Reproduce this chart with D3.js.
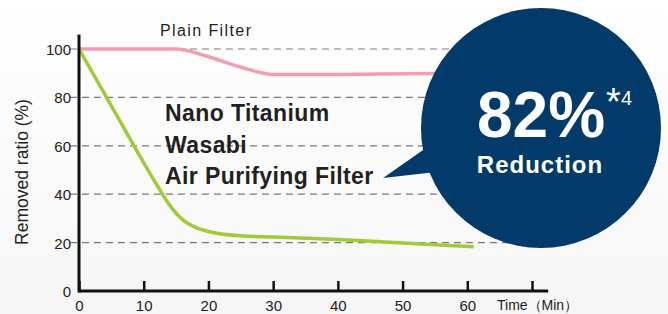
<!DOCTYPE html>
<html>
<head>
<meta charset="utf-8">
<script src="https://cdn.jsdelivr.net/npm/d3@7"></script>
<style>
  html, body { margin: 0; padding: 0; }
  body { width: 668px; height: 314px; overflow: hidden; font-family: "Liberation Sans", Arial, Helvetica, sans-serif; }
  svg { display: block; }
  .tick text { font-family: "Liberation Sans", Arial, sans-serif; fill: #222; }
</style>
</head>
<body>
<div id="chart"></div>
<script>
// 1: DATA
const plainTime   = [0, 5, 10, 15, 20, 25, 30, 40, 50, 60];
const plainValue  = [100, 100, 100, 100, 96.8, 92.5, 89.5, 89.5, 89.8, 90];
const wasabiTime  = [0, 5, 10, 12, 14, 16, 18, 20, 25, 30, 40, 50, 61];
const wasabiValue = [100, 76.5, 53, 44, 35.5, 29.5, 26.3, 24.6, 22.8, 22.3, 21.3, 19.8, 18.3];
const yTicks = [0, 20, 40, 60, 80, 100];
const xTicks = [0, 10, 20, 30, 40, 50, 60, 70];
const xTickLabels = ["0", "10", "20", "30", "40", "50", "60", ""];
const filterLines = ["Nano Titanium", "Wasabi", "Air Purifying Filter"];

// 2: SVG + SCALES
const W = 668, H = 314;
const svg = d3.select("#chart").append("svg")
    .attr("width", W)
    .attr("height", H);

const defs = svg.append("defs");
const bg = defs.append("linearGradient").attr("id", "bg")
    .attr("x1", 0).attr("y1", 0).attr("x2", 0).attr("y2", 1);
bg.append("stop").attr("offset", "0%").attr("stop-color", "#ffffff");
bg.append("stop").attr("offset", "100%").attr("stop-color", "#f6f6f6");
svg.append("rect").attr("width", W).attr("height", H).attr("fill", "url(#bg)");

const x = d3.scaleLinear().domain([0, 70]).range([79, 532]);
const y = d3.scaleLinear().domain([0, 100]).range([291, 49]);

// 3: GRIDLINES
svg.append("g")
    .selectAll("line")
    .data(yTicks.filter(d => d > 0))
    .enter()
    .append("line")
    .attr("x1", x(-1.4))
    .attr("x2", x(72.5))
    .attr("y1", d => y(d))
    .attr("y2", d => y(d))
    .attr("stroke", "#7a7a7a")
    .attr("stroke-width", 1.2)
    .attr("stroke-dasharray", "7,5");

// 4: LINES
const line = d3.line()
    .x(d => x(d[0]))
    .y(d => y(d[1]))
    .curve(d3.curveMonotoneX);

svg.append("path")
    .datum(plainTime.map((t, i) => [t, plainValue[i]]))
    .attr("d", line)
    .attr("fill", "none")
    .attr("stroke", "#f29db0")
    .attr("stroke-width", 3.5);

svg.append("path")
    .datum(wasabiTime.map((t, i) => [t, wasabiValue[i]]))
    .attr("d", line)
    .attr("fill", "none")
    .attr("stroke", "#9ecb36")
    .attr("stroke-width", 3.5);

// 5: AXES
const xAxis = svg.append("g")
    .attr("transform", `translate(0,${y(0)})`)
    .call(d3.axisBottom(x)
        .tickValues(xTicks)
        .tickFormat((d, i) => xTickLabels[i])
        .tickSizeInner(-10)
        .tickSizeOuter(0)
        .tickPadding(9));
xAxis.select(".domain").remove();
xAxis.selectAll(".tick line").attr("stroke", "#111").attr("stroke-width", 2.5);
xAxis.selectAll(".tick text").attr("font-size", 15);

const yAxis = svg.append("g")
    .attr("transform", `translate(${x(0)},0)`)
    .call(d3.axisLeft(y).tickValues(yTicks).tickSize(0).tickPadding(8));
yAxis.select(".domain").remove();
yAxis.selectAll(".tick text").attr("font-size", 15).attr("dy", "0.36em");

svg.append("line")
    .attr("x1", x(0)).attr("x2", x(72.5))
    .attr("y1", y(0)).attr("y2", y(0))
    .attr("stroke", "#111").attr("stroke-width", 3);
svg.append("line")
    .attr("x1", x(0)).attr("x2", x(0))
    .attr("y1", y(0) + 1.5).attr("y2", y(106))
    .attr("stroke", "#111").attr("stroke-width", 3);

// 6: LABELS
svg.append("text")
    .attr("x", 497)
    .attr("y", 310)
    .attr("font-size", 14)
    .attr("fill", "#222")
    .text("Time（Min）");

svg.append("text")
    .attr("transform", "rotate(-90)")
    .attr("x", -172)
    .attr("y", 28)
    .attr("text-anchor", "middle")
    .attr("font-size", 17.5)
    .attr("fill", "#222")
    .text("Removed ratio (%)");

svg.append("text")
    .attr("x", 160)
    .attr("y", 36)
    .attr("font-size", 16)
    .attr("letter-spacing", 1.4)
    .attr("fill", "#222")
    .text("Plain Filter");

svg.append("g")
    .selectAll("text")
    .data(filterLines)
    .enter()
    .append("text")
    .attr("x", 165)
    .attr("y", (d, i) => 121 + i * 31.5)
    .attr("font-size", 23)
    .attr("font-weight", "bold")
    .attr("letter-spacing", 0.4)
    .attr("fill", "#231f20")
    .text(d => d);

// 7: CALLOUT BUBBLE
const bubble = svg.append("g");
bubble.append("path")
    .attr("d", "M383,178 L426,148 L436,172 Z")
    .attr("fill", "#023a69");
bubble.append("circle")
    .attr("cx", 541)
    .attr("cy", 128)
    .attr("r", 120)
    .attr("fill", "#023a69");

const big = bubble.append("text")
    .attr("x", 477)
    .attr("y", 137)
    .attr("fill", "#fff")
    .attr("font-weight", "bold");
big.append("tspan").attr("font-size", 64).text("82%");
big.append("tspan").attr("font-size", 38).attr("font-weight", "normal").attr("dx", 1).attr("dy", -22).text("*");
big.append("tspan").attr("font-size", 20).attr("font-weight", "normal").attr("dy", -10).text("4");

bubble.append("text")
    .attr("x", 540)
    .attr("y", 173)
    .attr("text-anchor", "middle")
    .attr("font-size", 24)
    .attr("font-weight", "bold")
    .attr("letter-spacing", 1)
    .attr("fill", "#fff")
    .text("Reduction");
</script>
</body>
</html>
